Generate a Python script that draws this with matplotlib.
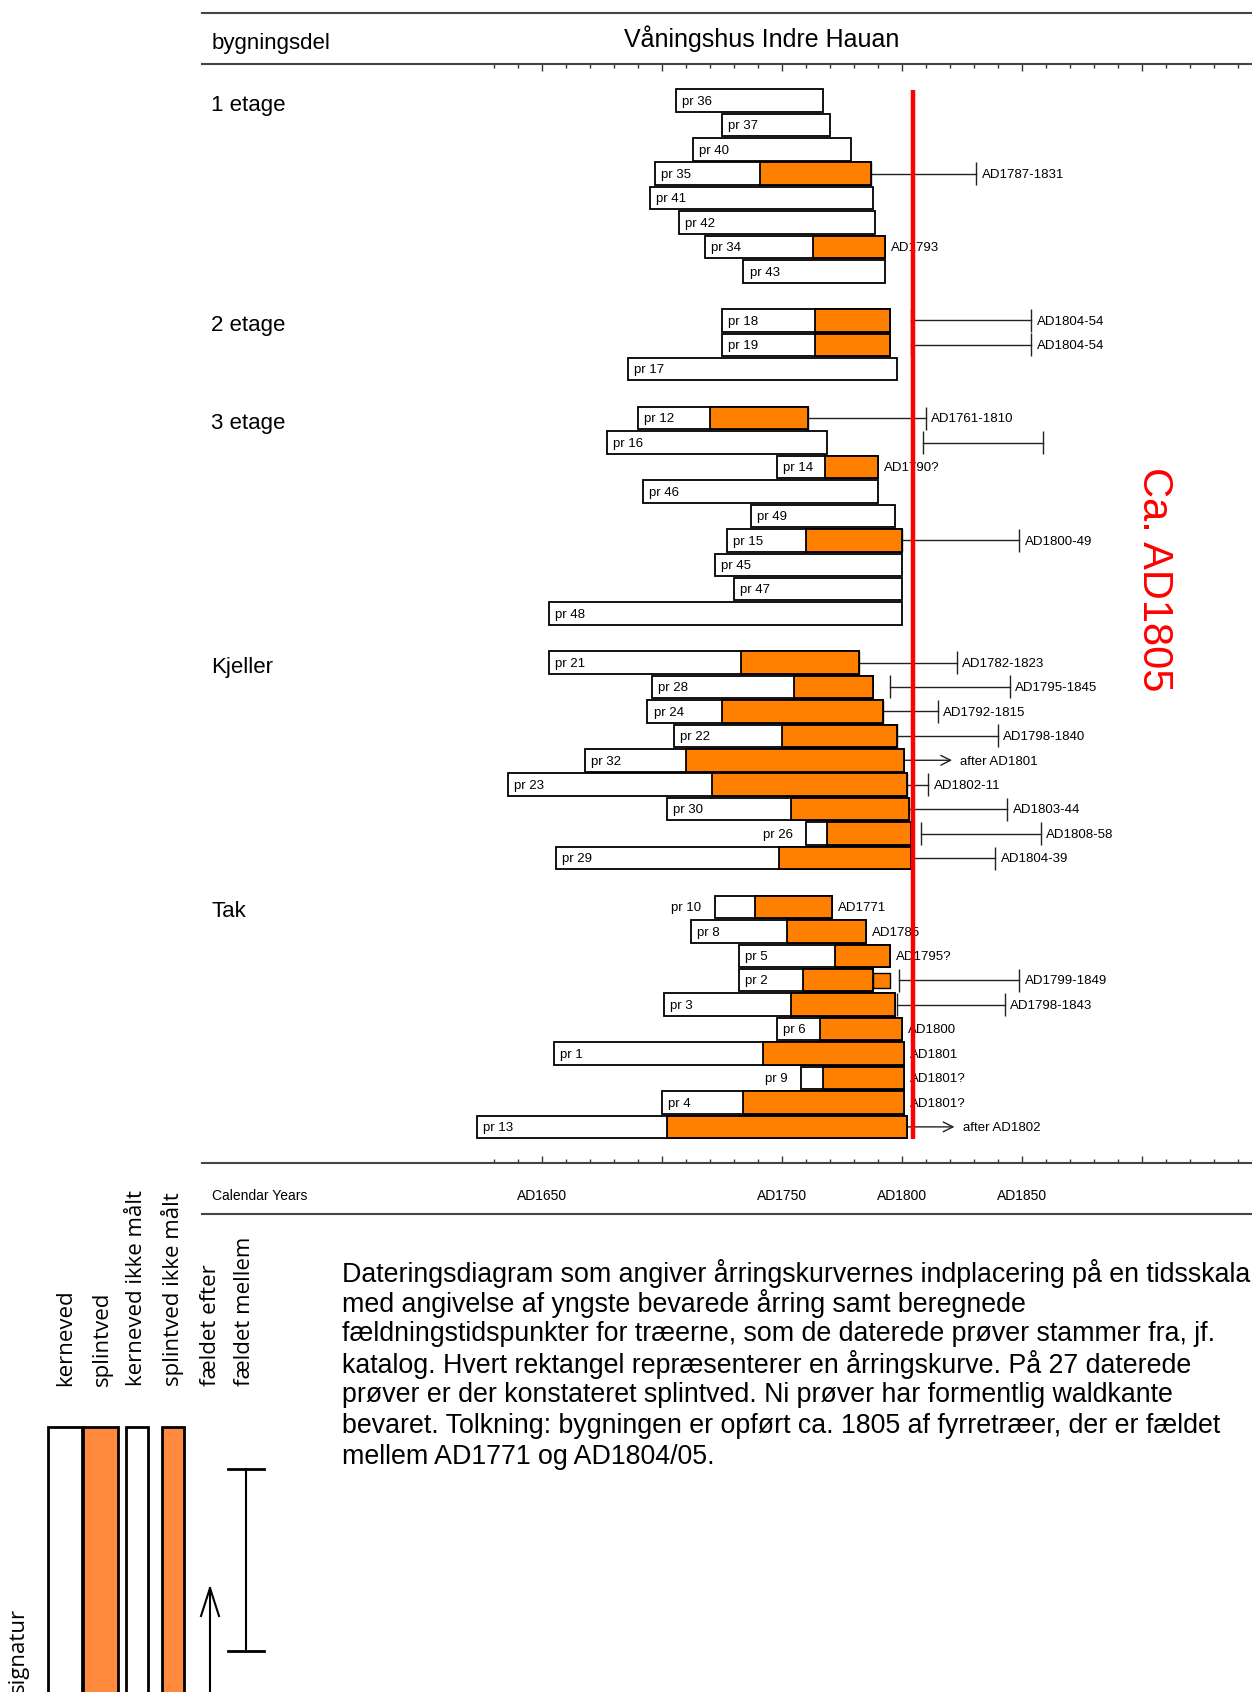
import matplotlib
matplotlib.use('Agg')
from matplotlib import pyplot as plt
from matplotlib.patches import Rectangle
from matplotlib.transforms import blended_transform_factory
import numpy as np

nan = np.nan

# ---- data (years) ----
group_names = ['1 etage', '2 etage', '3 etage', 'Kjeller', 'Tak']
group_sizes = [8, 3, 9, 9, 10]

sample_names = ['pr 36', 'pr 37', 'pr 40', 'pr 35', 'pr 41', 'pr 42', 'pr 34', 'pr 43',
                'pr 18', 'pr 19', 'pr 17',
                'pr 12', 'pr 16', 'pr 14', 'pr 46', 'pr 49', 'pr 15', 'pr 45', 'pr 47', 'pr 48',
                'pr 21', 'pr 28', 'pr 24', 'pr 22', 'pr 32', 'pr 23', 'pr 30', 'pr 26', 'pr 29',
                'pr 10', 'pr 8', 'pr 5', 'pr 2', 'pr 3', 'pr 6', 'pr 1', 'pr 9', 'pr 4', 'pr 13']
first_ring = [1706, 1725, 1713, 1697, 1695, 1707, 1718, 1734,
              1725, 1725, 1686,
              1690, 1677, 1748, 1692, 1737, 1727, 1722, 1730, 1653,
              1653, 1696, 1694, 1705, 1668, 1636, 1702, 1760, 1656,
              1722, 1712, 1732, 1732, 1701, 1748, 1655, 1758, 1700, 1623]
splint_start = [nan, nan, nan, 1741, nan, nan, 1763, nan,
                1764, 1764, nan,
                1720, nan, 1768, nan, nan, 1760, nan, nan, nan,
                1733, 1755, 1725, 1750, 1710, 1721, 1754, 1769, 1749,
                1739, 1752, 1772, 1759, 1754, 1766, 1742, 1767, 1734, 1702]
last_ring = [1767, 1770, 1779, 1787, 1788, 1789, 1793, 1793,
             1795, 1795, 1798,
             1761, 1769, 1790, 1790, 1797, 1800, 1800, 1800, 1800,
             1782, 1788, 1792, 1798, 1801, 1802, 1803, 1804, 1804,
             1771, 1785, 1795, 1788, 1797, 1800, 1801, 1801, 1801, 1802]
label_outside = ['pr 26', 'pr 10', 'pr 9']

# felling intervals
fell_names = ['pr 35', 'pr 18', 'pr 19', 'pr 12', 'pr 16', 'pr 15', 'pr 21', 'pr 28', 'pr 24',
              'pr 22', 'pr 23', 'pr 30', 'pr 26', 'pr 29', 'pr 2', 'pr 3']
fell_from = [1787, 1804, 1804, 1761, 1809, 1800, 1782, 1795, 1792, 1798, 1802, 1803, 1808, 1804, 1799, 1798]
fell_to = [1831, 1854, 1854, 1810, 1859, 1849, 1823, 1845, 1815, 1840, 1811, 1844, 1858, 1839, 1849, 1843]
fell_labels = ['AD1787-1831', 'AD1804-54', 'AD1804-54', 'AD1761-1810', '', 'AD1800-49', 'AD1782-1823',
               'AD1795-1845', 'AD1792-1815', 'AD1798-1840', 'AD1802-11', 'AD1803-44', 'AD1808-58',
               'AD1804-39', 'AD1799-1849', 'AD1798-1843']

# felling year (waldkante) labels
wk_names = ['pr 34', 'pr 14', 'pr 10', 'pr 8', 'pr 5', 'pr 6', 'pr 1', 'pr 9', 'pr 4']
wk_labels = ['AD1793', 'AD1790?', 'AD1771', 'AD1785', 'AD1795?', 'AD1800', 'AD1801', 'AD1801?', 'AD1801?']

# felled after
after_names = ['pr 32', 'pr 13']
after_to = [1821, 1822]
after_labels = ['after AD1801', 'after AD1802']

# unmeasured sapwood
unmeasured_names = ['pr 2']
unmeasured_from = [1788]
unmeasured_to = [1795]

building_line_year = 1804.5
building_label = 'Ca. AD1805'
axis_labels_years = [1650, 1750, 1800, 1850]
axis_labels = ['AD1650', 'AD1750', 'AD1800', 'AD1850']

caption_lines = [
    'Dateringsdiagram som angiver årringskurvernes indplacering på en tidsskala',
    'med angivelse af yngste bevarede årring samt beregnede',
    'fældningstidspunkter for træerne, som de daterede prøver stammer fra, jf.',
    'katalog. Hvert rektangel repræsenterer en årringskurve. På 27 daterede',
    'prøver er der konstateret splintved. Ni prøver har formentlig waldkante',
    'bevaret. Tolkning: bygningen er opført ca. 1805 af fyrretræer, der er fældet',
    'mellem AD1771 og AD1804/05.',
]
legend_labels = ['kerneved', 'splintved', 'kerneved ikke målt', 'splintved ikke målt',
                 'fældet efter', 'fældet mellem']

ORANGE = '#ff8000'
LEG_ORANGE = '#ff8a3d'
plt.rcParams['font.family'] = ['Liberation Sans', 'DejaVu Sans']

W, H = 1252, 1692
fig = plt.figure(figsize=(W / 100, H / 100), dpi=100)

# pixel overlay for frame, texts and legend
bg = fig.add_axes([0, 0, 1, 1])
bg.set_xlim(0, W)
bg.set_ylim(H, 0)
bg.axis('off')

# main dating axes: x in years, y in rows
PX_PER_YEAR = 2.4
X1800 = 901.7
ROW0, PITCH = 100.4, 24.44
ax = fig.add_axes([202 / W, 1 - 1163 / H, 1050 / W, (1163 - 64) / H])
ax.set_xlim(1800 + (202 - X1800) / PX_PER_YEAR, 1800 + (1252 - X1800) / PX_PER_YEAR)
ax.set_ylim((1163 - ROW0) / PITCH, (64 - ROW0) / PITCH)
ax.patch.set_alpha(0)
for s in ['left', 'right']:
    ax.spines[s].set_visible(False)
for s in ['top', 'bottom']:
    ax.spines[s].set_linewidth(1.5)
    ax.spines[s].set_color('#444444')
ax.set_xticks(np.arange(1650, 1901, 50))
ax.set_xticks(np.arange(1630, 1941, 10), minor=True)
ax.set_yticks([])
ax.tick_params(which='both', direction='in', top=True, bottom=True, labelbottom=False, width=1, color='#333333')
ax.tick_params(which='major', length=5)
ax.tick_params(which='minor', length=3)

rows = []
group_rows = []
r = 0
for size in group_sizes:
    group_rows.append(r)
    rows += list(range(r, r + size))
    r += size + 1
rows = np.array(rows, dtype=float)
row_of = dict(zip(sample_names, rows))

first = np.array(first_ring, dtype=float)
splint = np.array(splint_start, dtype=float)
last = np.array(last_ring, dtype=float)

BAR_H = 0.92
ax.barh(rows, last - first, left=first, height=BAR_H, color='white', edgecolor='black', linewidth=1.3, zorder=3)
m = ~np.isnan(splint)
ax.barh(rows[m], last[m] - splint[m], left=splint[m], height=BAR_H, color=ORANGE,
        edgecolor='black', linewidth=1.3, zorder=4)
for name, a, b in zip(unmeasured_names, unmeasured_from, unmeasured_to):
    ax.barh(row_of[name], b - a, left=a, height=0.62, color=ORANGE, edgecolor='black', linewidth=1, zorder=4)

for name, y, x0 in zip(sample_names, rows, first):
    if name in label_outside:
        ax.text(x0 - 5.5, y + 0.05, name, ha='right', va='center', fontsize=9.5, zorder=5)
    else:
        ax.text(x0 + 2.6, y + 0.05, name, ha='left', va='center', fontsize=9.5, zorder=5)

for name, a, b, lab in zip(fell_names, fell_from, fell_to, fell_labels):
    y = row_of[name]
    ax.plot([a, b], [y, y], color='#222222', lw=1, zorder=2)
    ax.vlines([a, b], y - 0.47, y + 0.47, color='#222222', lw=1, zorder=2)
    if lab:
        ax.text(b + 2.3, y + 0.05, lab, ha='left', va='center', fontsize=9.5, zorder=5)

for name, lab in zip(wk_names, wk_labels):
    y = row_of[name]
    end = last[sample_names.index(name)]
    ax.text(end + 2.5, y + 0.05, lab, ha='left', va='center', fontsize=9.5, zorder=5)

for name, to, lab in zip(after_names, after_to, after_labels):
    y = row_of[name]
    end = last[sample_names.index(name)]
    ax.annotate('', xy=(to, y), xytext=(end, y),
                arrowprops=dict(arrowstyle='->,head_length=0.5,head_width=0.25', lw=1, color='#222222',
                                shrinkA=0, shrinkB=0, mutation_scale=14), zorder=2)
    ax.text(to + 3.4, y + 0.05, lab, ha='left', va='center', fontsize=9.5, zorder=5)

# building year line
ax.vlines(building_line_year, -0.42, 42.5, color='#ff0000', lw=3.2, zorder=7)
ax.text(building_line_year + 100.5, 19.6, building_label, color='#ff0000', fontsize=30,
        rotation=270, ha='center', va='center')

gtrans = blended_transform_factory(ax.transAxes, ax.transData)
for name, r0 in zip(group_names, group_rows):
    ax.text(0.009, r0 + 0.2, name, transform=gtrans, fontsize=16, va='center')

# header / footer
bg.plot([202, W], [13, 13], color='#444444', lw=1.5)
bg.plot([202, W], [1214, 1214], color='#444444', lw=1.5)
bg.text(212, 43, 'bygningsdel', fontsize=16, va='center')
bg.text(762, 39, 'Våningshus Indre Hauan', fontsize=18, ha='center', va='center')
bg.text(212, 1196, 'Calendar Years', fontsize=10, va='center')
ltrans = blended_transform_factory(ax.transData, bg.transData)
for yr, lab in zip(axis_labels_years, axis_labels):
    ax.text(yr, 1196, lab, transform=ltrans, fontsize=10, ha='center', va='center')

# caption
for i, line in enumerate(caption_lines):
    bg.text(342, 1273 + i * 30.6, line, fontsize=19.3, va='center')

# legend
leg_x = [66, 102, 137, 173, 211, 245]
for x, lab in zip(leg_x, legend_labels):
    bg.text(x, 1386, lab, rotation=90, ha='center', va='bottom', fontsize=16, family='Open Sans')
bg.text(18, 1608, 'signatur', rotation=90, ha='center', va='top', fontsize=16, family='Open Sans')
bg.add_patch(Rectangle((48, 1427), 34, 400, fc='white', ec='black', lw=2))
bg.add_patch(Rectangle((83, 1427), 35, 400, fc=LEG_ORANGE, ec='black', lw=2))
bg.add_patch(Rectangle((126, 1427), 22, 400, fc='white', ec='black', lw=2))
bg.add_patch(Rectangle((162, 1427), 22, 400, fc=LEG_ORANGE, ec='black', lw=2))
bg.plot([210, 210], [1588, 1700], color='black', lw=1.5)
bg.plot([201, 210, 219], [1616, 1588, 1616], color='black', lw=1.5)
bg.plot([246, 246], [1469, 1651], color='black', lw=1.5)
bg.plot([228, 264], [1469, 1469], color='black', lw=2)
bg.plot([228, 264], [1651, 1651], color='black', lw=2)

fig.savefig('out.png', dpi=100, facecolor='white')
